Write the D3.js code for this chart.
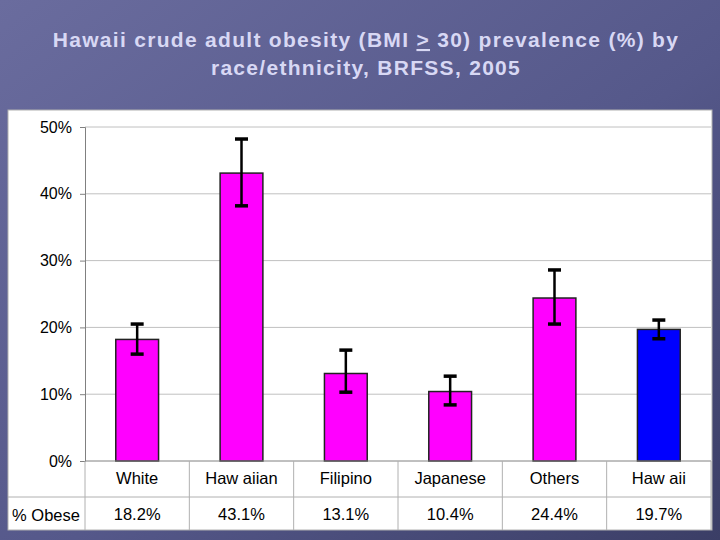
<!DOCTYPE html>
<html>
<head>
<meta charset="utf-8">
<script src="https://cdn.jsdelivr.net/npm/d3@7"></script>
<style>
  body { margin: 0; }
  svg { display: block; font-family: "Liberation Sans", Arial, sans-serif; }
</style>
</head>
<body>
<svg id="chart" width="720" height="540"></svg>
<script>
// data
const categories = ["White", "Haw aiian", "Filipino", "Japanese", "Others", "Haw aii"];
const obese = [18.2, 43.1, 13.1, 10.4, 24.4, 19.7];
const ciLow = [16.0, 38.2, 10.3, 8.4, 20.5, 18.3];
const ciHigh = [20.5, 48.2, 16.6, 12.7, 28.6, 21.1];
const barColors = ["#ff00ff", "#ff00ff", "#ff00ff", "#ff00ff", "#ff00ff", "#0000ff"];
const yTicks = [0, 10, 20, 30, 40, 50];
const rowLabel = "% Obese";

const svg = d3.select("#chart");
const width = 720, height = 540;

// slide background
const defs = svg.append("defs");
const grad = defs.append("linearGradient")
  .attr("id", "bg").attr("x1", "0").attr("y1", "0").attr("x2", "1").attr("y2", "1");
grad.append("stop").attr("offset", "0%").attr("stop-color", "#6a6c9e");
grad.append("stop").attr("offset", "55%").attr("stop-color", "#55588a");
grad.append("stop").attr("offset", "100%").attr("stop-color", "#3b3e66");
svg.append("rect").attr("width", width).attr("height", height).attr("fill", "url(#bg)");

// title
const title = svg.append("text")
  .attr("x", 366).attr("text-anchor", "middle")
  .attr("fill", "#d8d8f4").attr("font-size", 21).attr("font-weight", "bold")
  .attr("letter-spacing", 1.3);
title.append("tspan").attr("x", 366).attr("y", 47)
  .text("Hawaii crude adult obesity (BMI ");
title.append("tspan").attr("text-decoration", "underline").text(">");
title.append("tspan").text(" 30) prevalence (%) by");
title.append("tspan").attr("x", 366).attr("y", 75).text("race/ethnicity, BRFSS, 2005");

// white panel
svg.append("rect")
  .attr("x", 8).attr("y", 110).attr("width", 704).attr("height", 420)
  .attr("fill", "#ffffff").attr("stroke", "#b0b0b0");

const margin = { left: 85, right: 711, top: 127, bottom: 461 };
const x = d3.scaleBand().domain(categories).range([margin.left, margin.right]).paddingInner(0).paddingOuter(0);
const y = d3.scaleLinear().domain([0, 50]).range([margin.bottom, margin.top]);

// gridlines
svg.append("g").selectAll("line").data(yTicks.filter(d => d > 0)).join("line")
  .attr("x1", margin.left).attr("x2", margin.right)
  .attr("y1", d => y(d)).attr("y2", d => y(d))
  .attr("stroke", "#c0c0c0").attr("stroke-width", 1);

// y axis
const yAxis = svg.append("g")
  .attr("transform", `translate(${margin.left},0)`)
  .call(d3.axisLeft(y).tickValues(yTicks).tickFormat(d => d + "%").tickSize(5).tickPadding(8));
yAxis.select(".domain").attr("stroke", "#808080");
yAxis.selectAll(".tick line").attr("stroke", "#808080");
yAxis.selectAll(".tick text").attr("font-size", 16).attr("fill", "#000")
  .attr("font-family", "'Liberation Sans', Arial, sans-serif");

// bars
const barW = x.bandwidth() * 0.41;
svg.append("g").selectAll("rect").data(categories).join("rect")
  .attr("x", d => x(d) + (x.bandwidth() - barW) / 2)
  .attr("width", barW)
  .attr("y", (d, i) => y(obese[i]))
  .attr("height", (d, i) => y(0) - y(obese[i]))
  .attr("fill", (d, i) => barColors[i])
  .attr("stroke", "#222").attr("stroke-width", 1.5);

// error bars
const eb = svg.append("g").attr("stroke", "#000");
categories.forEach((c, i) => {
  const cx = x(c) + x.bandwidth() / 2;
  eb.append("line").attr("x1", cx).attr("x2", cx)
    .attr("y1", y(ciLow[i])).attr("y2", y(ciHigh[i])).attr("stroke-width", 2.5);
  [ciLow[i], ciHigh[i]].forEach(v => {
    eb.append("line").attr("x1", cx - 6.5).attr("x2", cx + 6.5)
      .attr("y1", y(v)).attr("y2", y(v)).attr("stroke-width", 3.5);
  });
});

// data table under the chart
const row1 = margin.bottom, row2 = 497, row3 = 530;
const tbl = svg.append("g");
tbl.append("line").attr("x1", margin.left).attr("x2", margin.right)
  .attr("y1", row1).attr("y2", row1).attr("stroke", "#808080");
tbl.append("line").attr("x1", 8).attr("x2", margin.right)
  .attr("y1", row2).attr("y2", row2).attr("stroke", "#b0b0b0");
const vx = categories.map(c => x(c)).concat([margin.right]);
tbl.selectAll("line.v").data(vx).join("line").attr("class", "v")
  .attr("x1", d => d).attr("x2", d => d)
  .attr("y1", row1).attr("y2", row3).attr("stroke", "#b0b0b0");

tbl.selectAll("text.cat").data(categories).join("text").attr("class", "cat")
  .attr("x", d => x(d) + x.bandwidth() / 2).attr("y", 484)
  .attr("text-anchor", "middle").attr("font-size", 16.5).attr("fill", "#000")
  .text(d => d);
tbl.selectAll("text.val").data(obese).join("text").attr("class", "val")
  .attr("x", (d, i) => x(categories[i]) + x.bandwidth() / 2).attr("y", 520)
  .attr("text-anchor", "middle").attr("font-size", 16.5).attr("fill", "#000")
  .text(d => d.toFixed(1) + "%");
tbl.append("text").attr("x", 46).attr("y", 521)
  .attr("text-anchor", "middle").attr("font-size", 16.5).attr("fill", "#000")
  .text(rowLabel);
</script>
</body>
</html>
